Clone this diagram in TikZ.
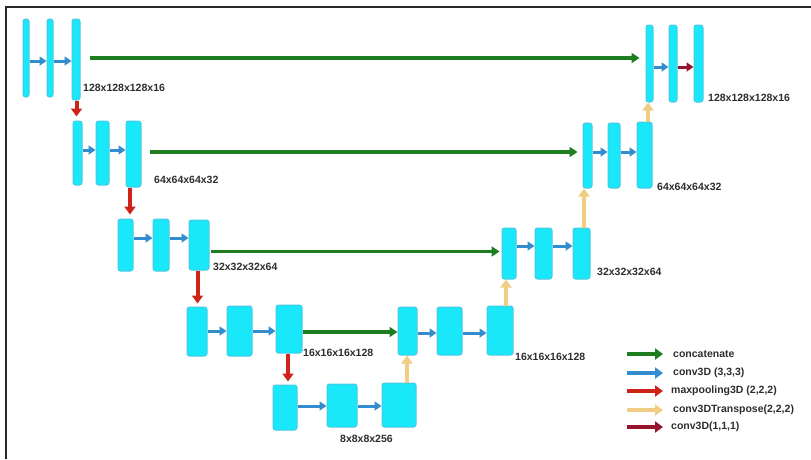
\documentclass[tikz,border=0pt]{standalone}
\usepackage{fontspec}
\setmainfont{Liberation Sans}
\usetikzlibrary{arrows.meta}

\definecolor{barfill}{RGB}{25,232,250}
\definecolor{barline}{RGB}{75,200,225}
\definecolor{catgreen}{RGB}{30,125,30}
\definecolor{convblue}{RGB}{50,140,205}
\definecolor{poolred}{RGB}{205,35,25}
\definecolor{upyellow}{RGB}{240,205,130}
\definecolor{outred}{RGB}{150,20,45}
\definecolor{labtext}{RGB}{45,45,45}
\definecolor{framecol}{RGB}{40,40,40}

\begin{document}
\begin{tikzpicture}[x=1pt,y=-1pt,
  bar/.style={draw=barline, fill=barfill, line width=1pt, rounded corners=2.5pt, inner sep=0pt},
  lab/.style={font=\fontsize{10.5}{12}\selectfont\bfseries, text=labtext, anchor=west, inner sep=0pt},
  conv/.style={draw=convblue, line width=3pt, -{Triangle[width=9pt,length=7pt]}},
  cat/.style={draw=catgreen, line width=3.5pt, -{Triangle[width=10pt,length=8pt]}},
  pool/.style={draw=poolred, line width=4pt, -{Triangle[width=11pt,length=8pt]}},
  up/.style={draw=upyellow, line width=4.5pt, -{Triangle[width=11pt,length=8pt]}},
  outconv/.style={draw=outred, line width=3pt, -{Triangle[width=9pt,length=7pt]}},
  legarrow/.style={line width=4pt, -{Triangle[width=11pt,length=8pt]}}
]
\useasboundingbox (0,0) rectangle (811,459);

% frame
\draw[framecol, line width=1.5pt] (6,459) -- (6,7) -- (811,7);

% encoder, level 1
\node[bar, minimum width=6pt, minimum height=78pt] (a1) at (26,58) {};
\node[bar, minimum width=6pt, minimum height=78pt] (a2) at (50,58) {};
\node[bar, minimum width=8pt, minimum height=81pt] (a3) at (76,59.5) {};
% encoder, level 2
\node[bar, minimum width=9pt, minimum height=64pt] (b1) at (77.5,153) {};
\node[bar, minimum width=13pt, minimum height=64pt] (b2) at (102.5,153) {};
\node[bar, minimum width=15pt, minimum height=66pt] (b3) at (133.5,154) {};
% encoder, level 3
\node[bar, minimum width=15pt, minimum height=52pt] (c1) at (125.5,245) {};
\node[bar, minimum width=16pt, minimum height=52pt] (c2) at (161,245) {};
\node[bar, minimum width=20pt, minimum height=50pt] (c3) at (199,245) {};
% encoder, level 4
\node[bar, minimum width=20pt, minimum height=49pt] (d1) at (197,331.5) {};
\node[bar, minimum width=25pt, minimum height=50pt] (d2) at (239.5,331) {};
\node[bar, minimum width=26pt, minimum height=48pt] (d3) at (289,329) {};
% bottleneck
\node[bar, minimum width=24pt, minimum height=45pt] (e1) at (285,407.5) {};
\node[bar, minimum width=30pt, minimum height=43pt] (e2) at (342,405.5) {};
\node[bar, minimum width=34pt, minimum height=44pt] (e3) at (399,405) {};
% decoder, level 4
\node[bar, minimum width=19pt, minimum height=48pt] (f1) at (407.5,331) {};
\node[bar, minimum width=25pt, minimum height=48pt] (f2) at (449.5,331) {};
\node[bar, minimum width=26pt, minimum height=49pt] (f3) at (500,330.5) {};
% decoder, level 3
\node[bar, minimum width=14pt, minimum height=51pt] (g1) at (509,253.5) {};
\node[bar, minimum width=17pt, minimum height=51pt] (g2) at (543.5,253.5) {};
\node[bar, minimum width=17pt, minimum height=51pt] (g3) at (581.5,253.5) {};
% decoder, level 2
\node[bar, minimum width=9pt, minimum height=65pt] (h1) at (587.5,155.5) {};
\node[bar, minimum width=12pt, minimum height=65pt] (h2) at (614,155.5) {};
\node[bar, minimum width=15pt, minimum height=66pt] (h3) at (644.5,155) {};
% decoder, level 1
\node[bar, minimum width=7pt, minimum height=77pt] (k1) at (649.5,63.5) {};
\node[bar, minimum width=8pt, minimum height=77pt] (k2) at (673,63.5) {};
\node[bar, minimum width=9pt, minimum height=77pt] (k3) at (698.5,63.5) {};

% shape labels
\node[lab] (ta) at (83,88) {128x128x128x16};
\node[lab] (tb) at (154,180) {64x64x64x32};
\node[lab] (tc) at (213,267) {32x32x32x64};
\node[lab] (td) at (303,353) {16x16x16x128};
\node[lab] (te) at (340,439) {8x8x8x256};
\node[lab] (tf) at (515,357) {16x16x16x128};
\node[lab] (tg) at (597,272) {32x32x32x64};
\node[lab] (th) at (657,187) {64x64x64x32};
\node[lab] (tk) at (708,98) {128x128x128x16};

% rows of the horizontal arrows
\coordinate (ra) at (0,61);
\coordinate (rb) at (0,150);
\coordinate (rc) at (0,238);
\coordinate (rd) at (0,331);
\coordinate (re) at (0,406);
\coordinate (rf) at (0,333);
\coordinate (rg) at (0,246);
\coordinate (rh) at (0,152);
\coordinate (rk) at (0,67);
% rows of the skip connections
\coordinate (s1) at (0,58);
\coordinate (s2) at (0,152);
\coordinate (s3) at (0,251.5);
\coordinate (s4) at (0,332);
% columns of the vertical arrows
\coordinate (p1) at (76.5,0);
\coordinate (p2) at (130,0);
\coordinate (p3) at (197.5,0);
\coordinate (p4) at (288,0);
\coordinate (u4) at (407,0);
\coordinate (u3) at (506,0);
\coordinate (u2) at (584,0);
\coordinate (u1) at (648,0);

% 3x3x3 convolutions
\draw[conv] (a1.east |- ra) -- (a2.west |- ra);
\draw[conv] (a2.east |- ra) -- (a3.west |- ra);
\draw[conv] (b1.east |- rb) -- (b2.west |- rb);
\draw[conv] (b2.east |- rb) -- (b3.west |- rb);
\draw[conv] (c1.east |- rc) -- (c2.west |- rc);
\draw[conv] (c2.east |- rc) -- (c3.west |- rc);
\draw[conv] (d1.east |- rd) -- (d2.west |- rd);
\draw[conv] (d2.east |- rd) -- (d3.west |- rd);
\draw[conv] (e1.east |- re) -- (e2.west |- re);
\draw[conv] (e2.east |- re) -- (e3.west |- re);
\draw[conv] (f1.east |- rf) -- (f2.west |- rf);
\draw[conv] (f2.east |- rf) -- (f3.west |- rf);
\draw[conv] (g1.east |- rg) -- (g2.west |- rg);
\draw[conv] (g2.east |- rg) -- (g3.west |- rg);
\draw[conv] (h1.east |- rh) -- (h2.west |- rh);
\draw[conv] (h2.east |- rh) -- (h3.west |- rh);
\draw[conv] (k1.east |- rk) -- (k2.west |- rk);
% final 1x1x1 convolution
\draw[outconv] (k2.east |- rk) -- (k3.west |- rk);

% max pooling
\draw[pool, shorten >=4pt] (a3.south -| p1) -- (b1.north -| p1);
\draw[pool, shorten >=4pt] (b3.south -| p2) -- (c1.north -| p2);
\draw[pool, shorten >=3pt] (c3.south -| p3) -- (d1.north -| p3);
\draw[pool, shorten >=3pt] (d3.south -| p4) -- (e1.north -| p4);

% transposed convolutions
\draw[up] (e3.north -| u4) -- (f1.south -| u4);
\draw[up] (f3.north -| u3) -- (g1.south -| u3);
\draw[up] (g3.north -| u2) -- (h1.south -| u2);
\draw[up] (h3.north -| u1) -- (k1.south -| u1);

% skip connections
\draw[cat, shorten <=9pt, shorten >=6pt] (a3.east |- s1) -- (k1.west |- s1);
\draw[cat, shorten <=8pt, shorten >=5pt] (b3.east |- s2) -- (h1.west |- s2);
\draw[cat, shorten <=1pt, shorten >=2pt] (c3.east |- s3) -- (g1.west |- s3);
\draw[cat] (d3.east |- s4) -- (f1.west |- s4);

% legend
\coordinate (l1a) at (627,354); \coordinate (l1b) at (663,354);
\coordinate (l2a) at (627,373); \coordinate (l2b) at (663,373);
\coordinate (l3a) at (627,391); \coordinate (l3b) at (663,391);
\coordinate (l4a) at (627,410); \coordinate (l4b) at (663,410);
\coordinate (l5a) at (627,427); \coordinate (l5b) at (663,427);
\draw[legarrow, draw=catgreen] (l1a) -- (l1b);
\draw[legarrow, draw=convblue] (l2a) -- (l2b);
\draw[legarrow, draw=poolred] (l3a) -- (l3b);
\draw[legarrow, draw=upyellow] (l4a) -- (l4b);
\draw[legarrow, draw=outred] (l5a) -- (l5b);
\node[lab] (n1) at (673,354) {concatenate};
\node[lab] (n2) at (673,373) {conv3D (3,3,3)};
\node[lab] (n3) at (671,391) {maxpooling3D (2,2,2)};
\node[lab] (n4) at (673,410) {conv3DTranspose(2,2,2)};
\node[lab] (n5) at (671,427) {conv3D(1,1,1)};
\end{tikzpicture}
\end{document}
